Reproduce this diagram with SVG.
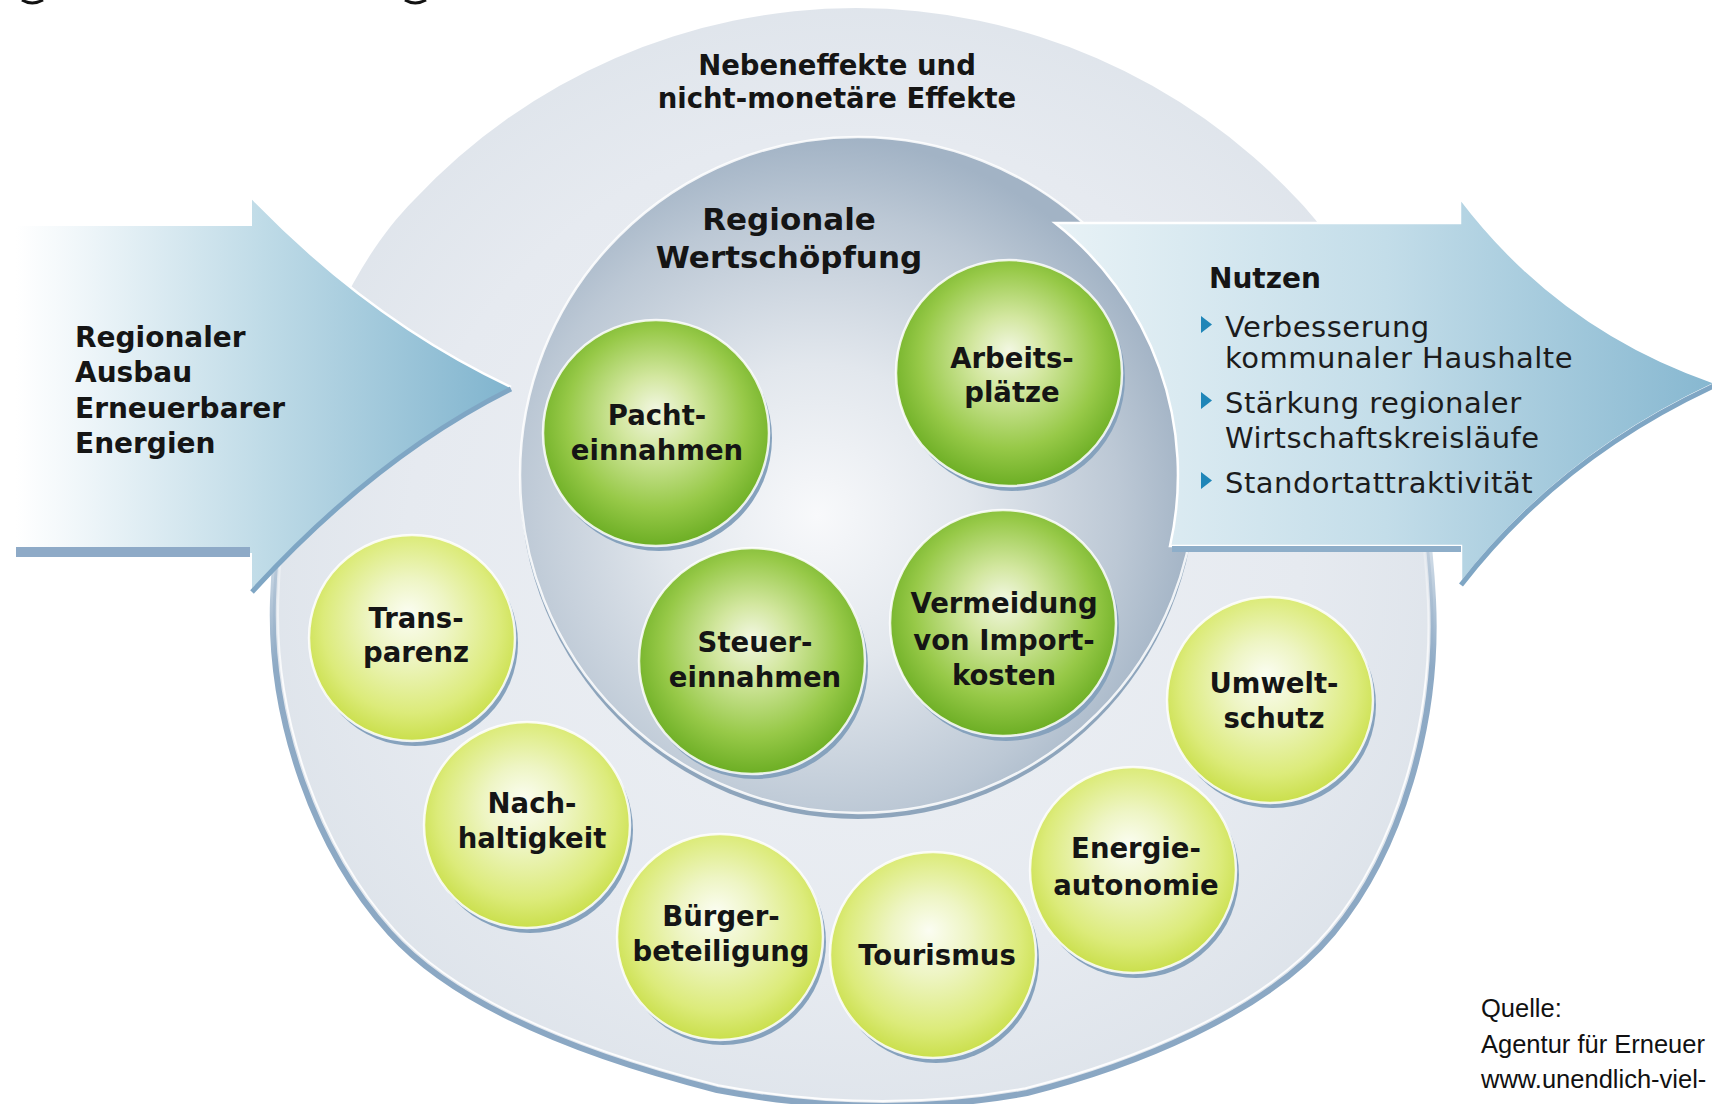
<svg xmlns="http://www.w3.org/2000/svg" width="1712" height="1104" viewBox="0 0 1712 1104">
<defs>
<style>
.b{font-family:"DejaVu Sans","Liberation Sans",sans-serif;font-weight:bold;fill:#151515}
.c{font-size:27.5px;text-anchor:middle}
.r{font-family:"DejaVu Sans","Liberation Sans",sans-serif;font-size:29px;letter-spacing:0.5px;fill:#1c1c1c}
.src{font-family:"Liberation Sans",Arial,sans-serif;font-size:25.5px;fill:#111}
.shadow{fill:#86a2bd}
.rim{stroke:#ffffff;stroke-width:2.5;stroke-opacity:0.85}
.dark{fill:url(#gDark)}
.light{fill:url(#gLight)}
.bullet{fill:#1f86b8}
</style>
<path id="outerShape" d="M414,200 A605,605 0 0,1 1298,200 C1393,299 1427,478 1433,600 C1439,722 1401,851 1333,933 C1265,1015 1130,1067 1027,1093 C924,1112 823,1110 717,1090 C611,1063 464,1015 390,933 C316,851 269,722 273,600 C277,478 316,299 414,200 Z"/>
<radialGradient id="gOuter" cx="0.5" cy="0.5" r="0.55">
<stop offset="0" stop-color="#eef1f5"/>
<stop offset="0.7" stop-color="#e6eaf0"/>
<stop offset="1" stop-color="#dde3ea"/>
</radialGradient>
<linearGradient id="gRim" x1="0" y1="0" x2="0" y2="1">
<stop offset="0" stop-color="#8eaac5" stop-opacity="0"/>
<stop offset="0.42" stop-color="#8eaac5" stop-opacity="0"/>
<stop offset="0.6" stop-color="#8eaac5" stop-opacity="1"/>
<stop offset="1" stop-color="#8aa7c3" stop-opacity="1"/>
</linearGradient>
<linearGradient id="gRimWhite" x1="0" y1="0" x2="0" y2="1">
<stop offset="0" stop-color="#ffffff" stop-opacity="0"/>
<stop offset="0.45" stop-color="#ffffff" stop-opacity="0"/>
<stop offset="0.62" stop-color="#ffffff" stop-opacity="0.9"/>
<stop offset="1" stop-color="#ffffff" stop-opacity="0.9"/>
</linearGradient>
<radialGradient id="gInner" cx="0.44" cy="0.56" r="0.56">
<stop offset="0" stop-color="#f8f9fb"/>
<stop offset="0.4" stop-color="#e2e7ed"/>
<stop offset="0.8" stop-color="#bcc8d5"/>
<stop offset="1" stop-color="#a2b3c5"/>
</radialGradient>
<radialGradient id="gDark" cx="0.5" cy="0.45" r="0.55" fx="0.5" fy="0.4">
<stop offset="0" stop-color="#f2f7e2"/>
<stop offset="0.3" stop-color="#d3e7a0"/>
<stop offset="0.72" stop-color="#97c948"/>
<stop offset="1" stop-color="#6cae24"/>
</radialGradient>
<radialGradient id="gLight" cx="0.5" cy="0.45" r="0.55" fx="0.48" fy="0.38">
<stop offset="0" stop-color="#fbfdf2"/>
<stop offset="0.35" stop-color="#eef5c4"/>
<stop offset="0.78" stop-color="#dceb7a"/>
<stop offset="1" stop-color="#cadf4c"/>
</radialGradient>
<linearGradient id="gLeftArrow" x1="16" y1="0" x2="511" y2="0" gradientUnits="userSpaceOnUse">
<stop offset="0" stop-color="#ffffff"/>
<stop offset="0.12" stop-color="#f1f7fa"/>
<stop offset="0.5" stop-color="#bfdbe7"/>
<stop offset="1" stop-color="#80b4ce"/>
</linearGradient>
<linearGradient id="gRightArrow" x1="1055" y1="0" x2="1716" y2="0" gradientUnits="userSpaceOnUse">
<stop offset="0" stop-color="#e8f2f6"/>
<stop offset="0.5" stop-color="#c3dde9"/>
<stop offset="1" stop-color="#86b7d0"/>
</linearGradient>
</defs>

<rect x="0" y="0" width="1712" height="1104" fill="#ffffff"/>

<!-- cut-off title fragments -->
<path d="M22,0 Q32,6 43,0" fill="none" stroke="#111" stroke-width="3"/>
<path d="M405,0 Q415,6 426,0" fill="none" stroke="#111" stroke-width="3"/>

<g id="node-nebeneffekte">
<use href="#outerShape" fill="url(#gOuter)" stroke="url(#gRim)" stroke-width="6"/>
<use href="#outerShape" transform="translate(855 560) scale(0.991) translate(-855 -560)" fill="none" stroke="url(#gRimWhite)" stroke-width="2"/>
<text class="b" font-size="27.5" text-anchor="middle" x="837" y="75">Nebeneffekte und</text>
<text class="b" font-size="27.5" text-anchor="middle" x="837" y="108">nicht-monetäre Effekte</text>
</g>

<g id="connectors">
<g id="arrow-input">
<path d="M16,226 L252,226 L252,198 Q372,322 511,387 Q375,455 252,590 L252,553 L16,553 Z" fill="url(#gLeftArrow)"/>
<path d="M252,198 Q372,322 511,387" fill="none" stroke="#ffffff" stroke-width="2.5"/>
<path d="M511,389 Q375,457 252,592" fill="none" stroke="#7fa6c4" stroke-width="5"/>
<rect x="16" y="547" width="234" height="10" fill="#8eaac7"/>
</g>
</g>

<g id="node-wertschoepfung">
<circle cx="858" cy="481" r="338" fill="#8ea5bc"/>
<circle cx="858" cy="475" r="338" fill="url(#gInner)" class="rim"/>
<text class="b" font-size="31" text-anchor="middle" x="789" y="230">Regionale</text>
<text class="b" font-size="31" text-anchor="middle" x="789" y="268">Wertschöpfung</text>
</g>

<g id="node-nutzen">
<path d="M1055,223 L1460,223 L1460,198 Q1560,330 1716,383 Q1560,455 1461,583 L1461,546 L1170,546 A320,320 0 0,0 1055,223 Z" fill="url(#gRightArrow)" stroke="#ffffff" stroke-width="2.5"/>
<path d="M1716,385 Q1560,457 1461,585" fill="none" stroke="#7fa6c4" stroke-width="5"/>
<rect x="1172" y="546" width="289" height="6" fill="#8eaec9"/>
<text class="b" font-size="28" x="1209" y="288">Nutzen</text>
<polygon class="bullet" points="1201,316 1201,333 1212,324.5"/>
<text class="r" x="1225" y="337">Verbesserung</text>
<text class="r" x="1225" y="368">kommunaler Haushalte</text>
<polygon class="bullet" points="1201,392 1201,409 1212,400.5"/>
<text class="r" x="1225" y="413">Stärkung regionaler</text>
<text class="r" x="1225" y="448">Wirtschaftskreisläufe</text>
<polygon class="bullet" points="1201,472 1201,489 1212,480.5"/>
<text class="r" x="1225" y="493">Standortattraktivität</text>
</g>

<g id="node-input">
<text class="b" font-size="28" x="75" y="347">Regionaler</text>
<text class="b" font-size="28" x="75" y="382">Ausbau</text>
<text class="b" font-size="28" x="75" y="418">Erneuerbarer</text>
<text class="b" font-size="28" x="75" y="453">Energien</text>
</g>

<g id="node-pacht">
<circle class="shadow" cx="659" cy="438" r="113"/>
<circle class="dark rim" cx="656" cy="433" r="113"/>
<text class="b c" x="657" y="425">Pacht-</text>
<text class="b c" x="657" y="460">einnahmen</text>
</g>

<g id="node-arbeit">
<circle class="shadow" cx="1012" cy="378" r="113"/>
<circle class="dark rim" cx="1009" cy="373" r="113"/>
<text class="b c" x="1012" y="368">Arbeits-</text>
<text class="b c" x="1012" y="402">plätze</text>
</g>

<g id="node-steuer">
<circle class="shadow" cx="755" cy="666" r="113"/>
<circle class="dark rim" cx="752" cy="661" r="113"/>
<text class="b c" x="755" y="652">Steuer-</text>
<text class="b c" x="755" y="687">einnahmen</text>
</g>

<g id="node-vermeidung">
<circle class="shadow" cx="1006" cy="628" r="113"/>
<circle class="dark rim" cx="1003" cy="623" r="113"/>
<text class="b c" x="1004" y="613">Vermeidung</text>
<text class="b c" x="1004" y="650">von Import-</text>
<text class="b c" x="1004" y="685">kosten</text>
</g>

<g id="node-transparenz">
<circle class="shadow" cx="415" cy="643" r="103"/>
<circle class="light rim" cx="412" cy="638" r="103"/>
<text class="b c" x="416" y="628">Trans-</text>
<text class="b c" x="416" y="662">parenz</text>
</g>

<g id="node-nachhaltigkeit">
<circle class="shadow" cx="530" cy="830" r="103"/>
<circle class="light rim" cx="527" cy="825" r="103"/>
<text class="b c" x="532" y="813">Nach-</text>
<text class="b c" x="532" y="848">haltigkeit</text>
</g>

<g id="node-buerger">
<circle class="shadow" cx="723" cy="942" r="103"/>
<circle class="light rim" cx="720" cy="937" r="103"/>
<text class="b c" x="721" y="926">Bürger-</text>
<text class="b c" x="721" y="961">beteiligung</text>
</g>

<g id="node-tourismus">
<circle class="shadow" cx="936" cy="960" r="103"/>
<circle class="light rim" cx="933" cy="955" r="103"/>
<text class="b c" x="937" y="965">Tourismus</text>
</g>

<g id="node-energie">
<circle class="shadow" cx="1136" cy="875" r="103"/>
<circle class="light rim" cx="1133" cy="870" r="103"/>
<text class="b c" x="1136" y="858">Energie-</text>
<text class="b c" x="1136" y="895">autonomie</text>
</g>

<g id="node-umwelt">
<circle class="shadow" cx="1273" cy="705" r="103"/>
<circle class="light rim" cx="1270" cy="700" r="103"/>
<text class="b c" x="1274" y="693">Umwelt-</text>
<text class="b c" x="1274" y="728">schutz</text>
</g>

<g id="node-quelle">
<text class="src" x="1481" y="1017">Quelle:</text>
<text class="src" x="1481" y="1053">Agentur für Erneuer</text>
<text class="src" x="1481" y="1088">www.unendlich-viel-</text>
</g>
</svg>
